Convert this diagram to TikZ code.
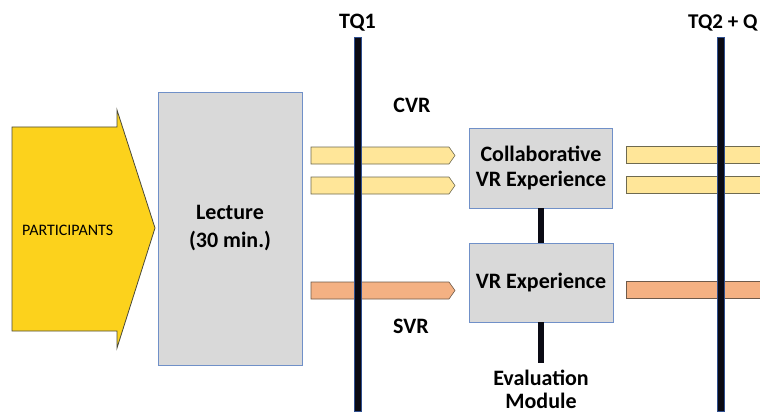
\documentclass[tikz,border=0pt]{standalone}
\usepackage{fontspec}
\setmainfont{Carlito}
\definecolor{gold}{HTML}{FCD21C}
\definecolor{arrowdraw}{HTML}{4A4A3A}
\definecolor{ybarfill}{HTML}{FFE699}
\definecolor{ybardraw}{HTML}{6E6A50}
\definecolor{obarfill}{HTML}{F4B183}
\definecolor{obardraw}{HTML}{6E5A4A}
\definecolor{boxgray}{HTML}{D9D9D9}
\definecolor{boxblue}{HTML}{7090C8}
\definecolor{vfill}{HTML}{0A0A14}
\definecolor{vdraw}{HTML}{2F4F8F}
\begin{document}
\begin{tikzpicture}[x=1pt,y=-1pt,
  lbl/.style={font=\fontsize{22}{25}\selectfont\bfseries, inner sep=0pt, align=center},
  box/.style={draw=boxblue, fill=boxgray, line width=0.8pt, inner sep=0pt, align=center, font=\fontsize{22}{25}\selectfont\bfseries},
  ybar/.style={fill=ybarfill, draw=ybardraw, line width=0.6pt},
  obar/.style={fill=obarfill, draw=obardraw, line width=0.6pt},
  vline/.style={fill=vfill, draw=vdraw, line width=0.5pt},
  link/.style={line width=6pt, draw=vfill}
]
\useasboundingbox (0,0) rectangle (760,417);
\clip (0,0) rectangle (760,417);

% participants arrow
\draw[fill=gold, draw=arrowdraw, line width=0.8pt]
  (12,127) -- (117,127) -- (117,110) -- (155,228) -- (117,348) -- (117,331) -- (12,331) -- cycle;
\node[anchor=base west, font=\fontsize{16}{19}\selectfont, inner sep=0pt] (part) at (22,235) {PARTICIPANTS};

% lecture
\node[box, font=\fontsize{22}{28}\selectfont\bfseries, minimum width=144pt, minimum height=273pt] (lecture) at (230,228.5) {Lecture\\(30 min.)};

% bars left
\draw[ybar] (311,147) -- (449,147) -- (455,155.5) -- (449,164) -- (311,164) -- cycle;
\draw[ybar] (311,177) -- (449,177) -- (455,185.5) -- (449,194) -- (311,194) -- cycle;
\draw[obar] (311,282) -- (449,282) -- (455,290.5) -- (449,299) -- (311,299) -- cycle;

% bars right
\draw[ybar] (626,146) rectangle (775,163);
\draw[ybar] (626,176) rectangle (775,193);
\draw[obar] (626,281) rectangle (775,298);

% vertical time lines
\filldraw[vline] (354,37) rectangle (361,411);
\filldraw[vline] (717,37) rectangle (724,411);

% labels
\node[lbl, anchor=base] (tq1) at (357.5,29) {TQ1};
\node[lbl, font=\fontsize{21}{25}\selectfont\bfseries, anchor=base west] (tq2) at (688,29) {TQ2 + Q};
\node[lbl, anchor=base] (cvr) at (412,113) {CVR};
\node[lbl, anchor=base] (svr) at (411,333) {SVR};

% boxes
\node[box, minimum width=143pt, minimum height=80pt] (collab) at (541,168) {Collaborative\\VR Experience};
\node[box, minimum width=144pt, minimum height=79pt] (vr) at (541,282.5) {VR Experience};
\node[lbl, font=\fontsize{22}{23}\selectfont\bfseries, anchor=north] (eval) at (541,370) {Evaluation\\Module};
\coordinate (evaltop) at (541,363);

\draw[link] (collab.south) -- (vr.north);
\draw[link] (vr.south) -- (evaltop);
\end{tikzpicture}
\end{document}
